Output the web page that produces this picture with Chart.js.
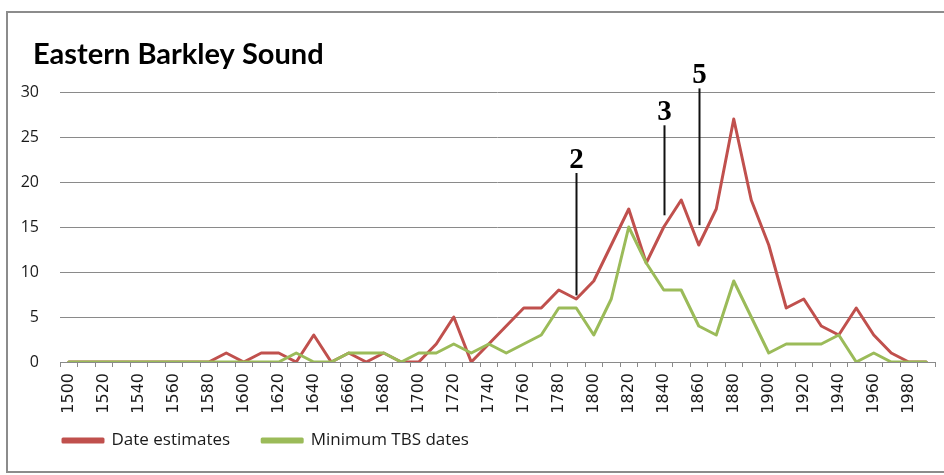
<!DOCTYPE html>
<html>
<head>
<meta charset="utf-8">
<title>Eastern Barkley Sound</title>
<script src="https://cdn.jsdelivr.net/npm/chart.js@4.4.1/dist/chart.umd.min.js"></script>
<style>
  html, body { margin: 0; padding: 0; background: #ffffff; }
  #wrap { width: 944px; height: 475px; }
</style>
</head>
<body>
<div id="wrap"><canvas id="chart" width="944" height="475"></canvas></div>
<script>
// Decades on the category axis
const years = [
  '1500','1510','1520','1530','1540','1550','1560','1570','1580','1590',
  '1600','1610','1620','1630','1640','1650','1660','1670','1680','1690',
  '1700','1710','1720','1730','1740','1750','1760','1770','1780','1790',
  '1800','1810','1820','1830','1840','1850','1860','1870','1880','1890',
  '1900','1910','1920','1930','1940','1950','1960','1970','1980','1990'
];

// Number of trees per decade
const dateEstimates = [
  0, 0, 0, 0, 0, 0, 0, 0, 0, 1,
  0, 1, 1, 0, 3, 0, 1, 0, 1, 0,
  0, 2, 5, 0, 2, 4, 6, 6, 8, 7,
  9, 13, 17, 11, 15, 18, 13, 17, 27, 18,
  13, 6, 7, 4, 3, 6, 3, 1, 0, 0
];
const minimumTbsDates = [
  0, 0, 0, 0, 0, 0, 0, 0, 0, 0,
  0, 0, 0, 1, 0, 0, 1, 1, 1, 0,
  1, 1, 2, 1, 2, 1, 2, 3, 6, 6,
  3, 7, 15, 11, 8, 8, 4, 3, 9, 5,
  1, 2, 2, 2, 3, 0, 1, 0, 0, 0
];

// Numbered callouts above the date-estimate curve
const calloutYears = ['1790', '1840', '1860'];
const calloutLabels = ['2', '3', '5'];

const seriesNames = ['Date estimates', 'Minimum TBS dates'];
const yTicks = [0, 5, 10, 15, 20, 25, 30];

const RED = '#c0504d';
const GREEN = '#9bbb59';
const GRID = '#8a8a8a';
const TEXT = '#1a1a1a';
const SANS = '"Open Sans", "Noto Sans", sans-serif';

// White background plus the outer frame of the chart object
const framePlugin = {
  id: 'frame',
  beforeDraw(chart) {
    const ctx = chart.ctx;
    ctx.save();
    ctx.fillStyle = '#ffffff';
    ctx.fillRect(0, 0, chart.width, chart.height);
    ctx.strokeStyle = '#8c8c8c';
    ctx.lineWidth = 2;
    ctx.strokeRect(7, 12, chart.width + 10, chart.height - 15);
    ctx.restore();
  }
};

// Indent the title and the legend inside the frame
const indentPlugin = {
  id: 'indent',
  afterLayout(chart) {
    if (chart.titleBlock) {
      chart.titleBlock.left = 33;
    }
    if (chart.legend) {
      chart.legend.left = 31;
      chart.legend.top = 400;
    }
  }
};

// Vertical leader lines with bold numbers, placed through the scales
const calloutPlugin = {
  id: 'callouts',
  afterDatasetsDraw(chart, args, opts) {
    const ctx = chart.ctx;
    const xs = chart.scales.x;
    const ys = chart.scales.y;
    ctx.save();
    ctx.strokeStyle = '#111111';
    ctx.lineWidth = 2;
    ctx.fillStyle = '#000000';
    ctx.font = 'bold 29px "Liberation Serif", "DejaVu Serif", serif';
    ctx.textAlign = 'center';
    ctx.textBaseline = 'alphabetic';
    calloutYears.forEach((yr, i) => {
      const x = Math.round(xs.getPixelForValue(years.indexOf(yr))) + 0.5;
      const yTop = ys.getPixelForValue(opts.tops[i]);
      const yBot = ys.getPixelForValue(opts.bottoms[i]);
      ctx.beginPath();
      ctx.moveTo(x, yTop);
      ctx.lineTo(x, yBot);
      ctx.stroke();
      ctx.fillText(calloutLabels[i], x, yTop - 5);
    });
    ctx.restore();
  }
};

new Chart(document.getElementById('chart'), {
  type: 'line',
  data: {
    labels: years,
    datasets: [
      {
        label: seriesNames[0],
        data: dateEstimates,
        borderColor: RED,
        backgroundColor: RED,
        borderWidth: 3,
        pointRadius: 0,
        tension: 0,
        borderJoinStyle: 'round',
        borderCapStyle: 'round',
        order: 1
      },
      {
        label: seriesNames[1],
        data: minimumTbsDates,
        borderColor: GREEN,
        backgroundColor: GREEN,
        borderWidth: 3,
        pointRadius: 0,
        tension: 0,
        borderJoinStyle: 'round',
        borderCapStyle: 'round',
        order: 0
      }
    ]
  },
  options: {
    responsive: false,
    animation: false,
    layout: { padding: { left: 0, right: 9, top: 12, bottom: 0 } },
    scales: {
      x: {
        type: 'category',
        offset: true,
        grid: {
          offset: true,
          drawOnChartArea: false,
          drawTicks: true,
          tickLength: 5,
          color: GRID,
          lineWidth: 1
        },
        border: { display: true, color: GRID, width: 1 },
        ticks: {
          autoSkip: false,
          minRotation: 90,
          maxRotation: 90,
          padding: 6,
          color: TEXT,
          font: { family: '"DejaVu Sans", sans-serif', size: 16 },
          callback: (val, idx) => (idx % 2 === 0 ? years[idx] : '')
        },
        afterFit(scale) {
          scale.height = 54;
          scale.paddingLeft = 0;
          scale.paddingRight = 0;
        }
      },
      y: {
        min: 0,
        max: 30,
        afterBuildTicks(scale) { scale.ticks = yTicks.map(v => ({ value: v })); },
        grid: { color: GRID, lineWidth: 1, drawTicks: false },
        border: { display: false },
        ticks: {
          padding: 21,
          color: TEXT,
          font: { family: SANS, size: 16 }
        },
        afterFit(scale) { scale.width = 60; }
      }
    },
    plugins: {
      title: {
        display: true,
        text: 'Eastern Barkley Sound',
        align: 'start',
        color: '#000000',
        font: { family: 'Lato, "Open Sans", sans-serif', size: 29, weight: 'bold', lineHeight: 1 },
        padding: { top: 28, bottom: 23 }
      },
      legend: {
        position: 'bottom',
        align: 'start',
        labels: {
          boxWidth: 40,
          boxHeight: 3,
          padding: 32,
          color: TEXT,
          font: { family: SANS, size: 17 },
          sort: (a, b) => a.datasetIndex - b.datasetIndex
        }
      },
      tooltip: { enabled: false },
      callouts: {
        tops: [21, 26.3, 30.4],
        bottoms: [7.4, 16.3, 15.2]
      }
    }
  },
  plugins: [framePlugin, indentPlugin, calloutPlugin]
});
</script>
</body>
</html>
